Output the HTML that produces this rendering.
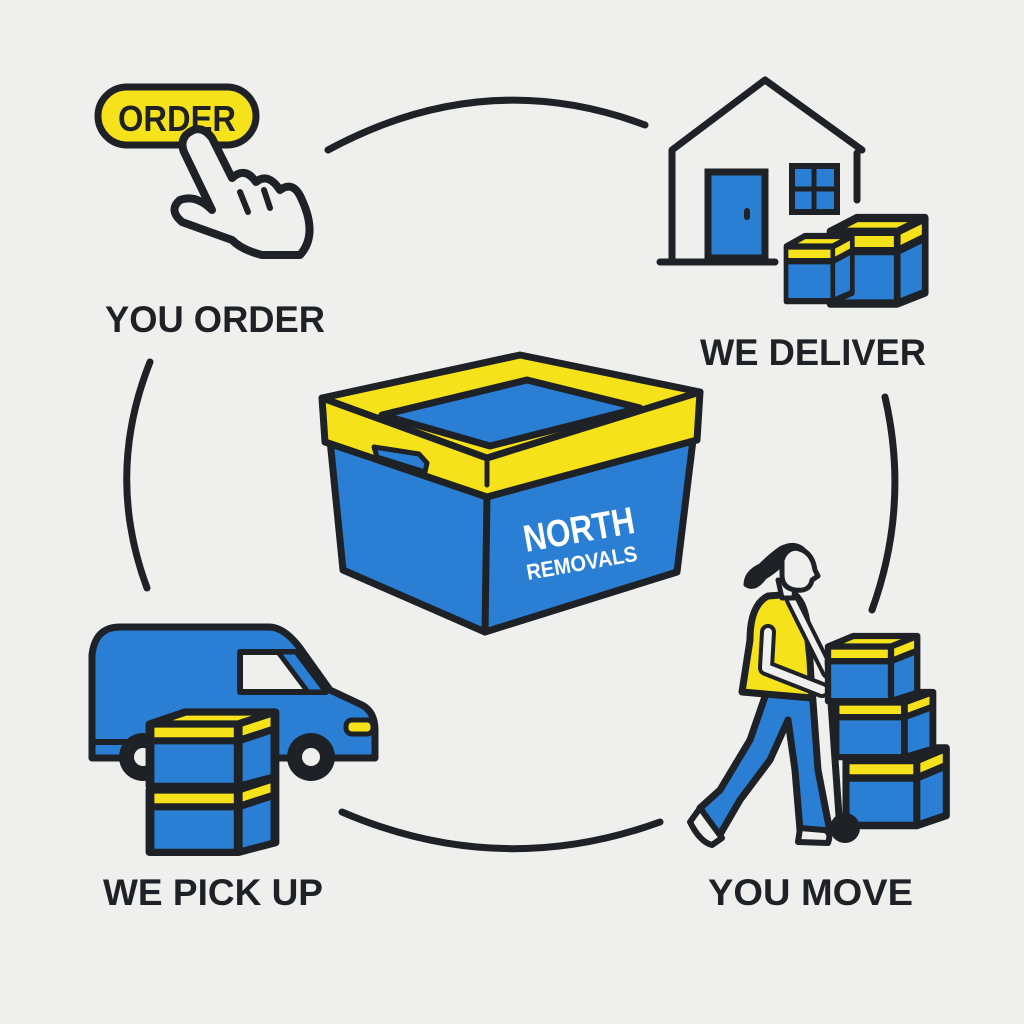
<!DOCTYPE html>
<html><head><meta charset="utf-8"><style>
html,body{margin:0;padding:0;background:#efefed;}
svg{display:block}
text{font-family:"Liberation Sans",sans-serif;font-weight:bold;}
</style></head><body>
<svg width="1024" height="1024" viewBox="0 0 1024 1024" xmlns="http://www.w3.org/2000/svg">
<rect width="1024" height="1024" fill="#efefed"/>
<g fill="none" stroke="#1e2226" stroke-width="7" stroke-linecap="round">
<path d="M328 150 Q485 65 645 125"/>
<path d="M150 362 Q105 475 147 588"/>
<path d="M885 397 Q910 505 872 610"/>
<path d="M342 812 Q500 880 660 822"/>
</g>

<g stroke="#1e2226" stroke-width="7" stroke-linejoin="round" stroke-linecap="round">
<path d="M330 440 L343 570 L485 632 L677 572 L693 440 L487 495 Z" fill="#2a7fd4"/>
<line x1="487" y1="495" x2="485" y2="632"/>
<path d="M322 398 L520 355 L700 392 L697 440 L487 497 L325 442 Z" fill="#f5e21a"/>
<path d="M322 398 L487 458 L700 392" fill="none"/>
<path d="M382 415 L527 380 L640 408 L490 446 Z" fill="#2a7fd4"/>
<path d="M374 447 L377 457 L425 472 L427 463 L419 454 Z" fill="#2a7fd4" stroke-width="5"/>
<line x1="487" y1="462" x2="487" y2="485" stroke-width="5"/>
</g>
<text x="0" y="0" font-size="38" fill="#fff" transform="translate(526 552) rotate(-10)" textLength="112" lengthAdjust="spacingAndGlyphs">NORTH</text>
<text x="0" y="0" font-size="22" fill="#fff" transform="translate(528 580) rotate(-10)" textLength="112" lengthAdjust="spacingAndGlyphs">REMOVALS</text>

<rect x="98" y="87" width="158" height="58" rx="29" fill="#f5e21a" stroke="#1e2226" stroke-width="7"/>
<text x="177" y="131" font-size="36" text-anchor="middle" fill="#1e2226" textLength="118" lengthAdjust="spacingAndGlyphs">ORDER</text>
<path d="M186 135 Q200 122 212 138 L232 178 Q245 166 256 182 Q268 172 280 190 Q294 180 302 200 Q318 235 300 255 L262 255 Q242 250 232 240 L182 222 Q168 210 180 200 Q196 194 212 210 L184 152 Q180 142 186 135 Z" fill="#efefed" stroke="#1e2226" stroke-width="8" stroke-linejoin="round"/>
<path d="M240 192 L248 212 M264 190 L270 208" stroke="#1e2226" stroke-width="6" stroke-linecap="round"/>

<g fill="none" stroke="#1e2226" stroke-width="7" stroke-linecap="round" stroke-linejoin="round">
<path d="M672 262 L672 150 L765 80 L862 150"/>
<line x1="660" y1="262" x2="775" y2="262"/>
<line x1="857" y1="153" x2="857" y2="200"/>
</g>
<rect x="708" y="172" width="57" height="86" fill="#2a7fd4" stroke="#1e2226" stroke-width="7"/>
<rect x="744" y="208" width="6" height="12" rx="3" fill="#1e2226"/>
<rect x="792" y="166" width="45" height="46" fill="#2a7fd4" stroke="#1e2226" stroke-width="6"/>
<path d="M814 166 V212 M792 189 H837" stroke="#1e2226" stroke-width="5"/>

<defs>
<g id="bx">
<path d="M0 10 L60 10 L60 62 L0 62 Z" fill="#2a7fd4"/>
<path d="M60 10 L85 2 L85 54 L60 62 Z" fill="#2a7fd4"/>
<path d="M0 10 L24 0 L85 0 L85 14 L60 24 L0 24 Z" fill="#f5e21a"/>
<path d="M0 10 L24 0 L85 0 L85 54 L60 62 L0 62 Z M0 10 L60 10 L85 0 M60 10 L60 62 M0 24 L60 24 L85 14" fill="none" stroke="#1e2226" stroke-width="6" stroke-linejoin="round"/>
</g>
</defs>
<use href="#bx" transform="translate(830 218) scale(1.12 1.38)"/>
<use href="#bx" transform="translate(786 236) scale(0.78 1.05)"/>

<path d="M92 755 L92 655 Q95 627 120 627 L270 627 Q285 628 300 648 L330 690 L362 705 Q375 712 375 730 L375 758 L92 758 Z" fill="#2a7fd4" stroke="#1e2226" stroke-width="7" stroke-linejoin="round"/>
<path d="M240 652 L296 652 L326 692 L240 692 Z" fill="#efefed" stroke="#1e2226" stroke-width="6" stroke-linejoin="round"/>
<path d="M278 652 L296 652 L326 692 L308 692 Z" fill="#2a7fd4" stroke="#1e2226" stroke-width="5" stroke-linejoin="round"/>
<rect x="346" y="720" width="27" height="14" rx="6" fill="#f5e21a" stroke="#1e2226" stroke-width="5"/>
<line x1="92" y1="742" x2="140" y2="742" stroke="#1e2226" stroke-width="6"/>
<circle cx="143" cy="757" r="24" fill="#1e2226"/><circle cx="143" cy="757" r="9" fill="#efefed"/>
<circle cx="311" cy="757" r="24" fill="#1e2226"/><circle cx="311" cy="757" r="9" fill="#efefed"/>
<use href="#bx" transform="translate(150 778) scale(1.47 1.2)"/>
<use href="#bx" transform="translate(150 712) scale(1.47 1.2)"/>

<g stroke="#1e2226" stroke-width="7" stroke-linejoin="round" stroke-linecap="round">
<path d="M768 688 L750 740 L720 790 L700 808 L718 838 L740 800 L770 760 L788 720 L795 770 L800 830 L830 832 L818 770 L812 688 Z" fill="#2a7fd4"/>
<path d="M700 808 L690 822 Q700 842 712 845 L722 838 Z M800 828 L798 842 L828 843 Q832 832 824 830 Z" fill="#efefed" stroke-width="6"/>
<path d="M768 596 L794 594 Q808 605 808 640 L810 660 L812 698 L742 692 L750 640 Q750 605 768 596 Z" fill="#f5e21a"/>
<path d="M768 632 L766 668 L822 690" fill="none" stroke-width="16" stroke="#1e2226"/>
<path d="M768 632 L766 668 L822 690" fill="none" stroke-width="8" stroke="#efefed"/>
<path d="M792 600 L828 672" fill="none" stroke-width="14" stroke="#1e2226"/>
<path d="M792 600 L828 672" fill="none" stroke-width="6" stroke="#efefed"/>
<path d="M778 580 L782 598 L794 598 L795 582 Z" fill="#efefed" stroke-width="5"/>
<path d="M782 562 Q780 548 795 548 Q812 550 815 570 L818 576 L812 580 Q810 592 795 590 Q782 588 782 575 Z" fill="#efefed" stroke-width="5"/>
<path d="M782 565 Q785 545 805 550 Q795 540 780 548 Q770 555 760 565 Q745 572 745 585 Q755 592 765 578 Q775 572 782 565 Z" fill="#1e2226" stroke-width="3"/>
</g>
<line x1="828" y1="660" x2="840" y2="830" stroke="#1e2226" stroke-width="7"/>
<use href="#bx" transform="translate(846 748) scale(1.18 1.25)"/>
<use href="#bx" transform="translate(836 692) scale(1.14 1.05)"/>
<use href="#bx" transform="translate(828 636) scale(1.05 1.05)"/>
<circle cx="845" cy="828" r="15" fill="#1e2226"/>

<g fill="#1e2226" font-size="37">
<text x="105" y="332" textLength="220" lengthAdjust="spacingAndGlyphs">YOU ORDER</text>
<text x="700" y="365" textLength="226" lengthAdjust="spacingAndGlyphs">WE DELIVER</text>
<text x="103" y="905" textLength="220" lengthAdjust="spacingAndGlyphs">WE PICK UP</text>
<text x="708" y="905" textLength="205" lengthAdjust="spacingAndGlyphs">YOU MOVE</text>
</g>
</svg>
</body></html>
